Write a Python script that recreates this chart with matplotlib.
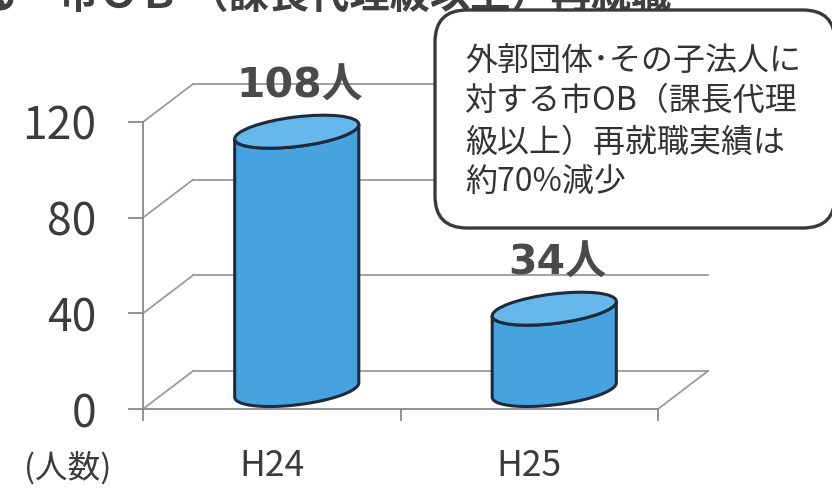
import numpy as np
import matplotlib
matplotlib.use("Agg")
import matplotlib.pyplot as plt
from matplotlib.patches import Ellipse, Polygon, FancyBboxPatch
from matplotlib.lines import Line2D
from matplotlib.transforms import ScaledTranslation
from matplotlib.ticker import NullFormatter

plt.rcParams['font.family'] = ['Noto Sans CJK JP', 'DejaVu Sans']

# ---- data ----
categories = ['H24', 'H25']
values = [108, 34]
value_labels = ['108人', '34人']
yticks = [0, 40, 80, 120]
unit_label = '(人数)'
callout_lines = ['外郭団体･その子法人に',
                 '対する市OB（課長代理',
                 '級以上）再就職実績は',
                 '約70%減少']
title_text = 'る　市ＯＢ （課長代理級以上）再就職'

# ---- styles ----
W, H, DPI = 832, 488, 100
grid_c = '#9a9a9a'
axis_c = '#8a8a8a'
text_c = '#3c3c3c'
body_c = '#47a3df'
top_c = '#66b7ea'
edge_c = '#1e2b3a'

fig = plt.figure(figsize=(W / DPI, H / DPI), dpi=DPI)
ax = fig.add_axes([143 / W, 79 / H, 515 / W, 287 / H])
n = len(categories)
ax.set_xlim(-0.5, n - 0.5)
ax.set_ylim(0, 120)
ax.patch.set_visible(False)
for s in ['top', 'right']:
    ax.spines[s].set_visible(False)
for s in ['left', 'bottom']:
    ax.spines[s].set_color(axis_c)
    ax.spines[s].set_linewidth(1.3)
    ax.spines[s].set_zorder(2)

# y ticks
ax.set_yticks(yticks)
ax.tick_params(axis='y', direction='out', length=10.8, width=1.3, color=axis_c,
               labelsize=32, labelcolor=text_c, pad=23)
# x ticks: boundaries as major (no labels), categories as minor labels
ax.set_xticks(np.arange(-0.5, n, 1.0))
ax.xaxis.set_major_formatter(NullFormatter())
ax.set_xticks(np.arange(n), minor=True)
ax.set_xticklabels(categories, minor=True)
ax.tick_params(axis='x', which='major', direction='out', length=8.6, width=1.3, color=axis_c)
ax.tick_params(axis='x', which='minor', length=0, labelsize=25.5, labelcolor=text_c, pad=28)

# oblique depth offsets (inches)
back_dx, back_dy = 0.50, 0.38
mid_dx, mid_dy = 0.25, 0.19
back_T = ax.transData + ScaledTranslation(back_dx, back_dy, fig.dpi_scale_trans)

# back wall gridlines and side diagonals
for yt in yticks:
    ax.plot([-0.5, n - 0.5], [yt, yt], transform=back_T, color=grid_c, lw=1.3,
            clip_on=False, zorder=1)
    tr = fig.dpi_scale_trans + ScaledTranslation(-0.5, yt, ax.transData)
    ax.add_line(Line2D([0, back_dx], [0, back_dy], transform=tr, color=grid_c,
                       lw=1.3, clip_on=False, zorder=1))
# floor right diagonal
tr = fig.dpi_scale_trans + ScaledTranslation(n - 0.5, 0, ax.transData)
ax.add_line(Line2D([0, back_dx], [0, back_dy], transform=tr, color=grid_c,
                   lw=1.3, clip_on=False, zorder=1))

# cylinders
a, b, th = 0.625, 0.1475, np.deg2rad(7)
t0 = np.arctan(-b * np.tan(th) / a)


def ell(t):
    return (a * np.cos(t) * np.cos(th) - b * np.sin(t) * np.sin(th),
            a * np.cos(t) * np.sin(th) + b * np.sin(t) * np.cos(th))


mid_T = ScaledTranslation(mid_dx, mid_dy, fig.dpi_scale_trans)
for i, v in enumerate(values):
    h_in = (ax.transData.transform((i, v))[1] - ax.transData.transform((i, 0))[1]) / fig.dpi
    base_T = fig.dpi_scale_trans + ScaledTranslation(i, 0, ax.transData) + mid_T
    tt = np.linspace(t0 + np.pi, t0 + 2 * np.pi, 80)
    bx, by = ell(tt)
    tx, ty = ell(tt[::-1])
    px = np.concatenate([bx, tx])
    py = np.concatenate([by, ty + h_in])
    body = Polygon(np.column_stack([px, py]), closed=True, facecolor=body_c,
                   edgecolor=edge_c, lw=2.2, transform=base_T, zorder=3, clip_on=False)
    ax.add_patch(body)
    top_T = fig.dpi_scale_trans + ScaledTranslation(i, v, ax.transData) + mid_T
    top = Ellipse((0, 0), 2 * a, 2 * b, angle=7, facecolor=top_c, edgecolor=edge_c,
                  lw=2.2, transform=top_T, zorder=4, clip_on=False)
    ax.add_patch(top)
    lab_T = ax.transData + ScaledTranslation(mid_dx + 0.03, mid_dy + 0.34, fig.dpi_scale_trans)
    ax.text(i, v, value_labels[i], transform=lab_T, ha='center', va='baseline',
            fontsize=29.5, fontweight='bold', color='#4a4a4a',
            family=['DejaVu Sans', 'Noto Sans CJK JP'], zorder=5, clip_on=False)

# unit label
fig.text(0.68, (H - 468) / DPI, unit_label, transform=fig.dpi_scale_trans,
         ha='center', va='center', fontsize=23.5, color=text_c)

# partial title at top (cut off by figure edge, as in the source image)
fig.text(-0.22, (H - 8) / DPI, title_text, transform=fig.dpi_scale_trans,
         ha='left', va='baseline', fontsize=29, fontweight='bold', color='#404040')

# callout box
box = FancyBboxPatch((4.35, (H - 228) / DPI), 4.0, 2.18,
                     boxstyle='round,pad=0,rounding_size=0.32',
                     transform=fig.dpi_scale_trans, facecolor='white',
                     edgecolor='#3a3a3a', lw=2.4, zorder=10)
fig.add_artist(box)
line_y = [61, 101, 143, 183]
for ly, txt in zip(line_y, callout_lines):
    fig.text(4.65, (H - ly) / DPI, txt, transform=fig.dpi_scale_trans,
             ha='left', va='center', fontsize=23, color='#333333', zorder=11)

fig.savefig('out.png', dpi=DPI)
